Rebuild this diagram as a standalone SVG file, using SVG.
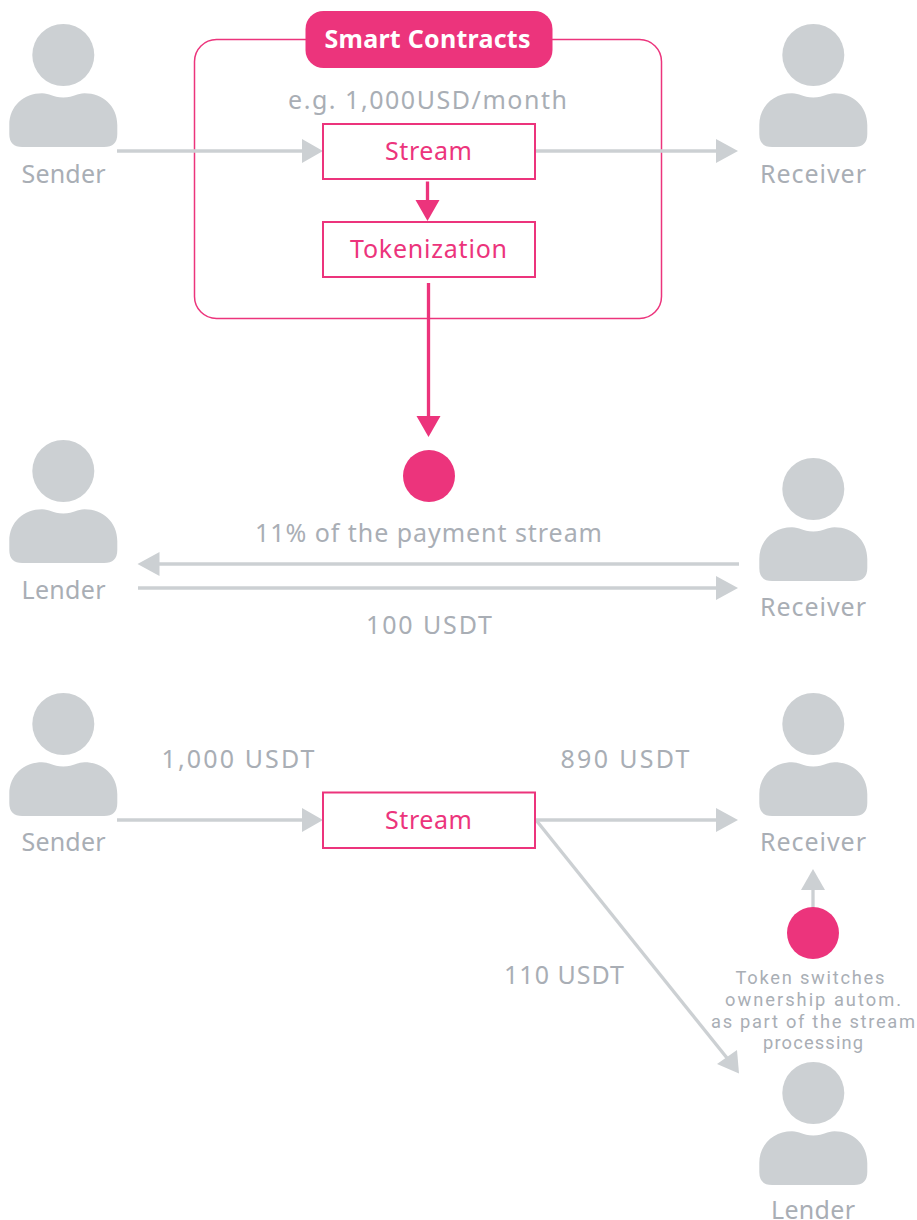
<svg xmlns="http://www.w3.org/2000/svg" width="917" height="1220" viewBox="0 0 917 1220">
<style>
text{font-family:"Noto Sans","Open Sans",sans-serif;text-anchor:middle}
.g{fill:#a9aeb5;font-size:25px}
.p{fill:#ec347c;font-size:25px}
.s{fill:#a9aeb5;font-size:18.3px;font-family:Roboto,"Noto Sans",sans-serif}
.box{fill:#fff;stroke:#ec347c;stroke-width:2}
.lg{stroke:#ccd0d3;stroke-width:3.3;fill:none}
.lp{stroke:#ec347c;stroke-width:3.3;fill:none}
.hg{fill:#ccd0d3}
.hp{fill:#ec347c}
</style>
<defs>
<g id="person" fill="#ccd0d3">
<circle cx="63.3" cy="55" r="31"/>
<path d="M9.3 134V125C9.3 106 24 93.3 42 93.3C50 93.3 52 97.5 63.3 97.5C74.6 97.5 76.6 93.3 84.6 93.3C102.6 93.3 117.3 106 117.3 125V134Q117.3 147 104 147H22.3Q9.3 147 9.3 134Z"/>
</g>
</defs>
<g id="contract-frame"><rect x="194.500" y="39.500" width="467" height="279" rx="22" fill="#fff" stroke="#ec347c" stroke-width="1.500"/></g>
<g id="connectors">
<path class="lg" d="M117 151H305"/><polygon class="hg" points="302,139 302,163 323,151"/>
<path class="lg" d="M536 151H718"/><polygon class="hg" points="716,139 716,163 738,151"/>
<path class="lp" d="M427.500 181.500V202"/><polygon class="hp" points="415.500,200 439.500,200 427.500,221"/>
<path class="lp" d="M428.500 283V418"/><polygon class="hp" points="416.500,416 440.500,416 428.500,437"/>
<path class="lg" d="M739 564H158"/><polygon class="hg" points="159.500,552 159.500,576 137.500,564"/>
<path class="lg" d="M138 588H718"/><polygon class="hg" points="716,576 716,600 738,588"/>
<path class="lg" d="M117 820H305"/><polygon class="hg" points="302,808 302,832 323,820"/>
<path class="lg" d="M536 820H718"/><polygon class="hg" points="716,808 716,832 738,820"/>
<path class="lg" d="M536 820L727 1058"/><polygon class="hg" points="739,1073.500 737,1050 717,1064"/>
<path class="lg" d="M813 910V885"/><polygon class="hg" points="801,890 825,890 813,869"/>
</g>
<g id="badge"><rect x="305.500" y="11" width="247" height="57" rx="18" fill="#ec347c"/><text x="427.500" y="48" textLength="206" lengthAdjust="spacing" style="font-size:25px;font-weight:700;fill:#fff">Smart Contracts</text></g>
<g id="note"><text class="g" x="427.500" y="109" textLength="279" lengthAdjust="spacing">e.g. 1,000USD/month</text></g>
<g id="stream1"><rect class="box" x="323" y="124" width="212" height="55"/><text class="p" x="428.500" y="160" textLength="87" lengthAdjust="spacing">Stream</text></g>
<g id="tokenization"><rect class="box" x="323" y="222" width="212" height="55"/><text class="p" x="428.500" y="258" textLength="157" lengthAdjust="spacing">Tokenization</text></g>
<g id="sender1"><use href="#person"/><text class="g" x="63.500" y="183" textLength="84" lengthAdjust="spacing">Sender</text></g>
<g id="receiver1"><use href="#person" x="750"/><text class="g" x="813" y="183" textLength="106" lengthAdjust="spacing">Receiver</text></g>
<g id="token1"><circle cx="429" cy="476" r="26" fill="#ec347c"/></g>
<g id="lender1"><use href="#person" y="416"/><text class="g" x="63.500" y="599" textLength="84" lengthAdjust="spacing">Lender</text></g>
<g id="receiver2"><use href="#person" x="750" y="434"/><text class="g" x="813" y="616" textLength="106" lengthAdjust="spacing">Receiver</text></g>
<g id="labels2"><text class="g" x="428.500" y="542" textLength="347" lengthAdjust="spacing">11% of the payment stream</text><text class="g" x="429" y="634" textLength="126" lengthAdjust="spacing">100 USDT</text></g>
<g id="sender3"><use href="#person" y="669"/><text class="g" x="63.500" y="851" textLength="84" lengthAdjust="spacing">Sender</text></g>
<g id="stream3"><rect class="box" x="323" y="792.500" width="212" height="55.500"/><text class="p" x="428.500" y="829" textLength="87" lengthAdjust="spacing">Stream</text></g>
<g id="receiver3"><use href="#person" x="750" y="669"/><text class="g" x="813" y="851" textLength="106" lengthAdjust="spacing">Receiver</text></g>
<g id="token3"><circle cx="813" cy="933" r="26" fill="#ec347c"/></g>
<g id="lender3"><use href="#person" x="750" y="1038"/><text class="g" x="813" y="1219" textLength="84" lengthAdjust="spacing">Lender</text></g>
<g id="labels3"><text class="g" x="238" y="768" textLength="153" lengthAdjust="spacing">1,000 USDT</text><text class="g" x="625" y="768" textLength="129" lengthAdjust="spacing">890 USDT</text><text class="g" x="564" y="984" textLength="120" lengthAdjust="spacing">110 USDT</text>
<text class="s" x="810" y="984" textLength="149" lengthAdjust="spacing">Token switches</text><text class="s" x="813" y="1006" textLength="176" lengthAdjust="spacing">ownership autom.</text><text class="s" x="813" y="1027.500" textLength="204" lengthAdjust="spacing">as part of the stream</text><text class="s" x="813" y="1049" textLength="100" lengthAdjust="spacing">processing</text></g>
</svg>
